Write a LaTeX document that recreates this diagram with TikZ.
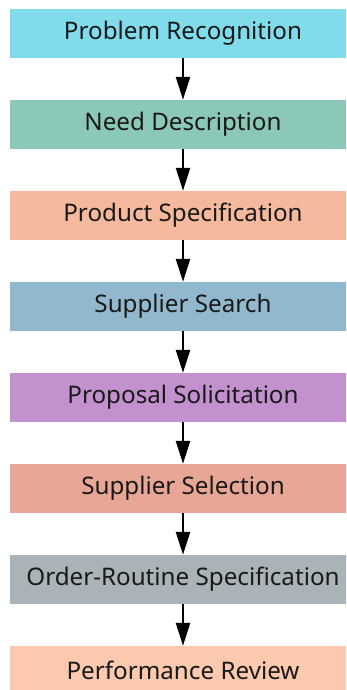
\documentclass[tikz,border=0pt]{standalone}
\usepackage{fontspec}
\setmainfont{Noto Sans}
\usepackage{xcolor}
\usetikzlibrary{arrows.meta}

\definecolor{recog}{HTML}{80DCEB}
\definecolor{need}{HTML}{8CC8B8}
\definecolor{prodspec}{HTML}{F5B99E}
\definecolor{search}{HTML}{91B8CD}
\definecolor{proposal}{HTML}{C291CE}
\definecolor{select}{HTML}{E8A696}
\definecolor{routine}{HTML}{AAB3B7}
\definecolor{review}{HTML}{FAC9AE}

\tikzset{
  stage/.style={rectangle, minimum width=346pt, minimum height=49pt, inner sep=0pt,
    font=\fontsize{24.2}{29}\selectfont, text=black!90},
  flow/.style={-{Triangle[length=23pt,width=14pt]}, line width=2.5pt, black}
}

\begin{document}
\begin{tikzpicture}[x=1pt,y=1pt]
\useasboundingbox (0,0) rectangle (346,-690);
\clip (0,0) rectangle (346,-690);

\node[stage, fill=recog] (recog) at (183,-33.5) {Problem Recognition};
\node[stage, fill=need] (need) at (183,-124.5) {Need Description};
\node[stage, fill=prodspec] (prodspec) at (183,-215.5) {Product Specification};
\node[stage, fill=search] (search) at (183,-306.5) {Supplier Search};
\node[stage, fill=proposal] (proposal) at (183,-397.5) {Proposal Solicitation};
\node[stage, fill=select] (select) at (183,-488.5) {Supplier Selection};
\node[stage, fill=routine] (routine) at (183,-579.5) {Order-Routine Specification};
\node[stage, fill=review] (review) at (183,-670.5) {Performance Review};

\draw[flow] (recog) -- (need);
\draw[flow] (need) -- (prodspec);
\draw[flow] (prodspec) -- (search);
\draw[flow] (search) -- (proposal);
\draw[flow] (proposal) -- (select);
\draw[flow] (select) -- (routine);
\draw[flow] (routine) -- (review);
\end{tikzpicture}
\end{document}
